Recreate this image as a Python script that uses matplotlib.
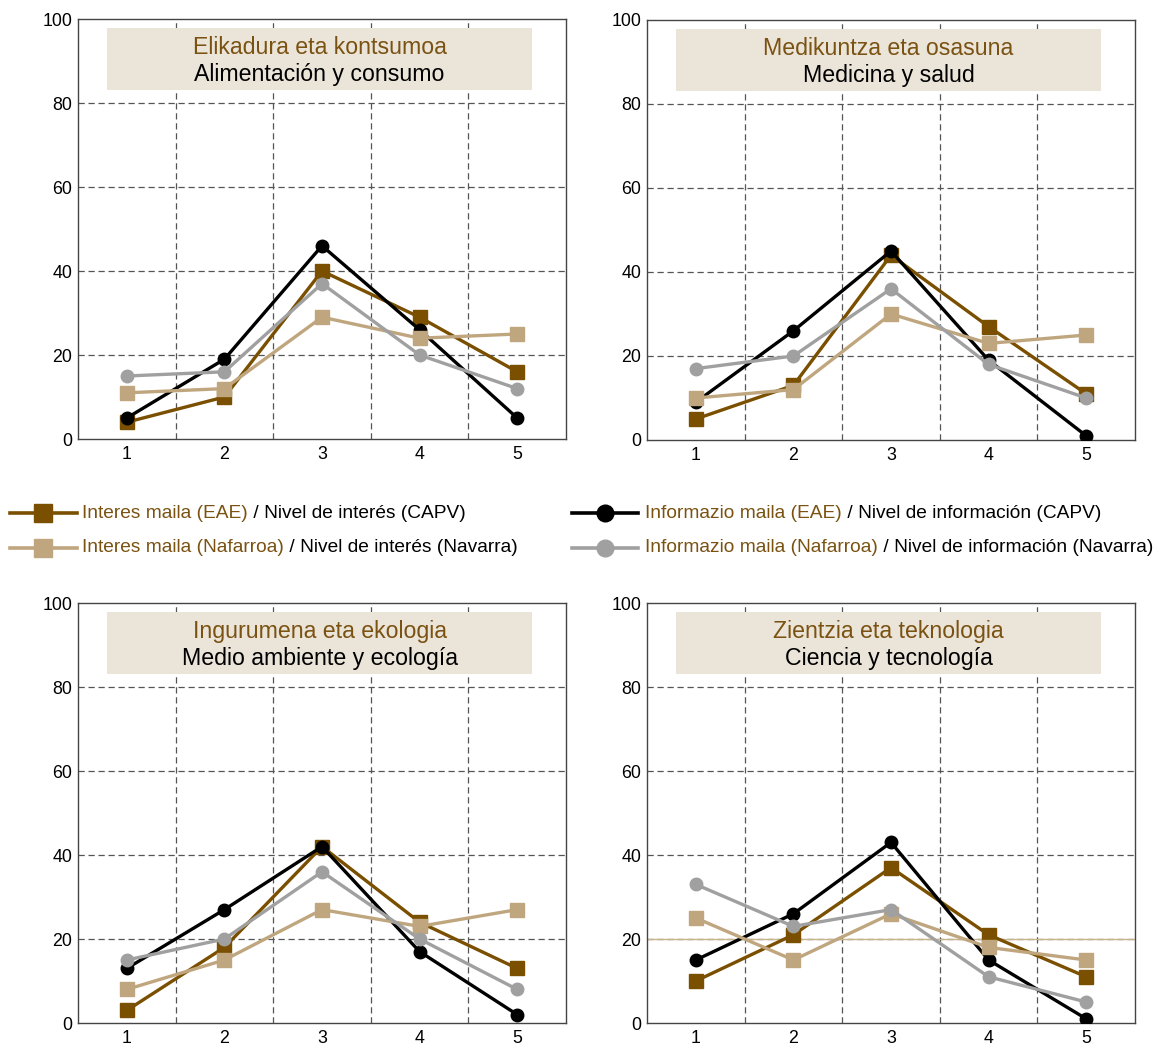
import numpy as np
import matplotlib
matplotlib.use('Agg')
import matplotlib.pyplot as plt
from matplotlib.lines import Line2D
from matplotlib.patches import Rectangle

plt.rcParams['font.family'] = ['Liberation Sans', 'DejaVu Sans']

# data
x = [1, 2, 3, 4, 5]
titles_eu = ["Elikadura eta kontsumoa", "Medikuntza eta osasuna",
             "Ingurumena eta ekologia", "Zientzia eta teknologia"]
titles_es = ["Alimentación y consumo", "Medicina y salud",
             "Medio ambiente y ecología", "Ciencia y tecnología"]

interes_eae = [[4, 10, 40, 29, 16], [5, 13, 44, 27, 11],
               [3, 18, 42, 24, 13], [10, 21, 37, 21, 11]]
info_eae = [[5, 19, 46, 26, 5], [9, 26, 45, 19, 1],
            [13, 27, 42, 17, 2], [15, 26, 43, 15, 1]]
interes_nav = [[11, 12, 29, 24, 25], [10, 12, 30, 23, 25],
               [8, 15, 27, 23, 27], [25, 15, 26, 18, 15]]
info_nav = [[15, 16, 37, 20, 12], [17, 20, 36, 18, 10],
            [15, 20, 36, 20, 8], [33, 23, 27, 11, 5]]

legend_eu = ["Interes maila (EAE)", "Interes maila (Nafarroa)",
             "Informazio maila (EAE)", "Informazio maila (Nafarroa)"]
legend_es = [" / Nivel de interés (CAPV)", " / Nivel de interés (Navarra)",
             " / Nivel de información (CAPV)", " / Nivel de información (Navarra)"]

BROWN = '#7a4f00'
TAN = '#bfa67f'
GRAY = '#a0a0a0'
BLACK = '#000000'
TXT_BROWN = '#7a5212'
BOX = '#ebe4d9'

W, H = 1165, 1047
fig = plt.figure(figsize=(W / 100, H / 100), dpi=100)

# axes boxes in pixels (left, top, right, bottom)
boxes = [(78, 19, 566, 439), (647, 20, 1135, 440),
         (78, 603, 566, 1023), (647, 603, 1135, 1023)]

for i, (l, t, r, b) in enumerate(boxes):
    ax = fig.add_axes([l / W, 1 - b / H, (r - l) / W, (b - t) / H])
    ax.set_xlim(0.5, 5.5)
    ax.set_ylim(0, 100)
    ax.set_yticks([0, 20, 40, 60, 80, 100])
    ax.set_xticks(x)
    ax.tick_params(length=0, labelsize=12.8, colors='black')
    ax.tick_params(axis='y', pad=4)
    ax.tick_params(axis='x', pad=5)
    for s in ax.spines.values():
        s.set_color('#444444')
        s.set_linewidth(1.0)
    for yv in [20, 40, 60, 80]:
        ax.axhline(yv, color='#555555', lw=0.9, ls=(0, (5, 3)), zorder=1)
    for xv in [1.5, 2.5, 3.5, 4.5]:
        ax.axvline(xv, color='#555555', lw=0.9, ls=(0, (5, 3)), zorder=1)
    if i == 3:
        ax.axhline(20, color='#c8b48c', lw=1.0, zorder=1.5)

    ax.plot(x, interes_eae[i], color=BROWN, lw=2.4, marker='s', ms=10, zorder=3)
    ax.plot(x, info_eae[i], color=BLACK, lw=2.4, marker='o', ms=9, zorder=4)
    ax.plot(x, interes_nav[i], color=TAN, lw=2.4, marker='s', ms=10, zorder=5)
    ax.plot(x, info_nav[i], color=GRAY, lw=2.4, marker='o', ms=9, zorder=6)

    ax.add_patch(Rectangle((0.059, 0.831), 0.872, 0.148, transform=ax.transAxes,
                           facecolor=BOX, edgecolor='none', zorder=7))
    ax.text(0.495, 0.932, titles_eu[i], transform=ax.transAxes, ha='center',
            va='center', fontsize=16.7, color=TXT_BROWN, zorder=8)
    ax.text(0.495, 0.867, titles_es[i], transform=ax.transAxes, ha='center',
            va='center', fontsize=16.7, color='black', zorder=8)

# legend, drawn in a pixel-coordinate overlay
lax = fig.add_axes([0, 0, 1, 1])
lax.set_xlim(0, W)
lax.set_ylim(H, 0)
lax.axis('off')

entries = [(10, 77, 43, 513, BROWN, 's', 13, 82),
           (10, 77, 43, 548, TAN, 's', 13, 82),
           (572, 638, 605, 513, BLACK, 'o', 12, 645),
           (572, 638, 605, 548, GRAY, 'o', 12, 645)]
renderer = fig.canvas.get_renderer()
for k, (x0, x1, xm, yy, col, mk, ms, tx) in enumerate(entries):
    lax.add_line(Line2D([x0, x1], [yy, yy], color=col, lw=2.6))
    lax.add_line(Line2D([xm], [yy], color=col, marker=mk, ms=ms))
    t1 = lax.text(tx, yy, legend_eu[k], ha='left', va='center',
                  fontsize=13.8, color=TXT_BROWN)
    bb = t1.get_window_extent(renderer)
    lax.text(bb.x1, yy, legend_es[k], ha='left', va='center',
             fontsize=13.8, color='black')

fig.savefig('out.png', dpi=100)
